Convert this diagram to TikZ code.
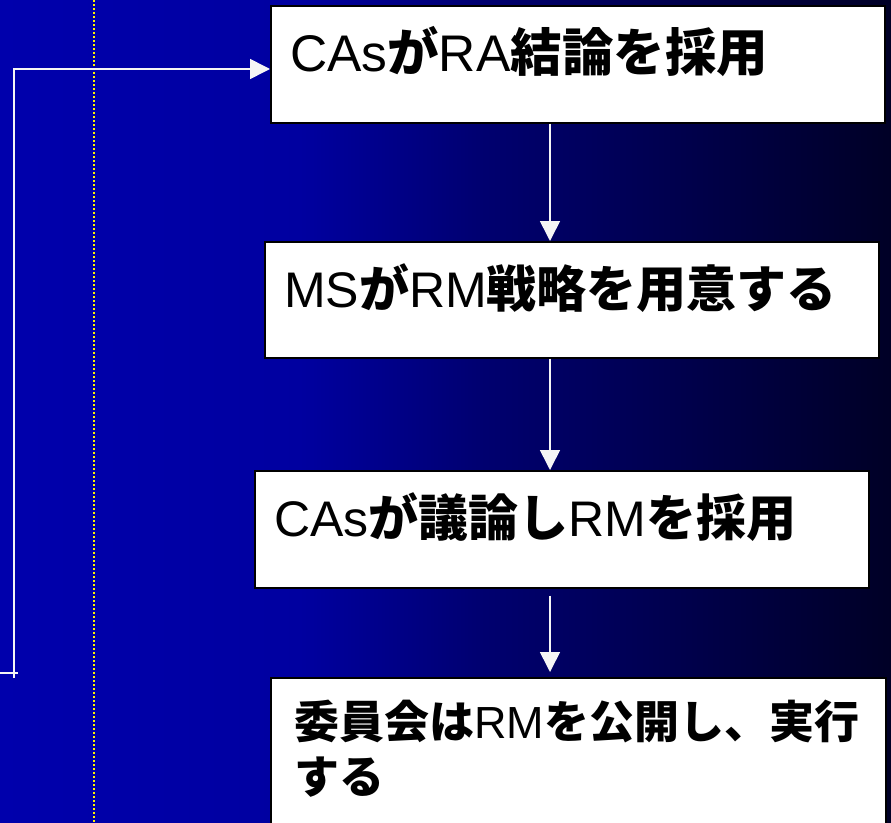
\documentclass[tikz,border=0pt]{standalone}
\usepackage{fontspec}
\setmainfont{Liberation Sans}
\newfontfamily\jp{Noto Sans CJK JP}
\usetikzlibrary{arrows.meta}
\newcommand{\J}[1]{{\jp\bfseries #1}}
\tikzset{
  bxn/.style={draw=black, fill=white, line width=1.5pt, inner sep=0pt, anchor=north west},
  txt/.style={inner sep=0pt, anchor=base west, align=left, font=\fontsize{50}{57}\selectfont, text=black},
  conn/.style={draw=white!92!gray, line width=1.6pt, -{Triangle[length=20pt,width=20pt]}},
  plain/.style={draw=white!92!gray, line width=1.6pt},
}
\begin{document}
\begin{tikzpicture}[x=1pt,y=-1pt]
\useasboundingbox (0,0) rectangle (891,822);
% background gradient
\shade[left color={rgb,255:red,0;green,0;blue,172}, right color={rgb,255:red,0;green,0;blue,160}] (0,0) rectangle (301,822);
\shade[left color={rgb,255:red,0;green,0;blue,160}, right color={rgb,255:red,0;green,0;blue,112}] (300,0) rectangle (481,822);
\shade[left color={rgb,255:red,0;green,0;blue,112}, right color={rgb,255:red,0;green,0;blue,82}] (480,0) rectangle (651,822);
\shade[left color={rgb,255:red,0;green,0;blue,82}, right color={rgb,255:red,0;green,0;blue,38}] (650,0) rectangle (891,822);
% dotted guide
\draw[yellow, line width=1.8pt, dash pattern=on 2pt off 2pt] (94,0) -- (94,822);
% boxes
\node[bxn, minimum width=614pt, minimum height=117pt] (b1) at (270,5) {};
\node[bxn, minimum width=614pt, minimum height=116pt] (b2) at (264,241) {};
\node[bxn, minimum width=614pt, minimum height=117pt] (b3) at (254,470) {};
\node[bxn, minimum width=615pt, minimum height=170pt] (b4) at (270,677) {};
% texts
\node[txt, font=\fontsize{51.5}{57}\selectfont] (t1) at (290,71) {CAs\J{が}RA\J{結論を採用}};
\node[txt] (t2) at (284,307) {MS\J{が}RM\J{戦略を用意する}};
\node[txt] (t3) at (274,536) {CAs\J{が議論し}RM\J{を採用}};
\node[txt, font=\fontsize{45}{55}\selectfont] (t4) at (294,793) {\J{委員会は}RM\J{を公開し、実行}\\\J{する}};
% connectors
\coordinate (ax) at (550,0);
\draw[conn] (ax |- b1.south) -- (ax |- b2.north);
\draw[conn] (ax |- b2.south) -- (ax |- b3.north);
\draw[conn, shorten <=7pt, shorten >=5pt] (ax |- b3.south) -- (ax |- b4.north);
\coordinate (s) at (14,678);
\coordinate (e1) at (270,69);
\draw[conn] (s) |- (e1);
\coordinate (k0) at (0,673);
\coordinate (k1) at (18,673);
\draw[plain] (k0) -- (k1);
\end{tikzpicture}
\end{document}
